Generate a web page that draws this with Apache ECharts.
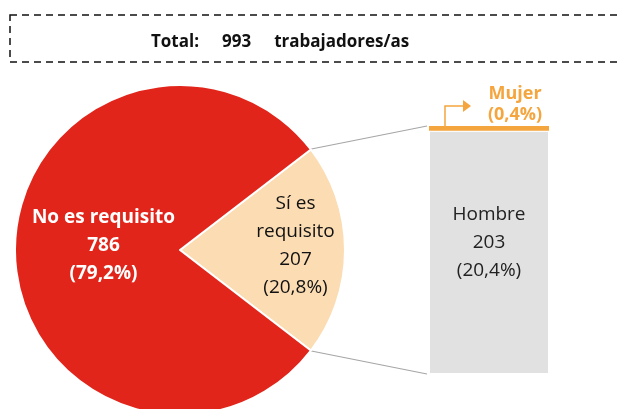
<!DOCTYPE html>
<html>
<head>
<meta charset="utf-8">
<script src="https://cdn.jsdelivr.net/npm/echarts@6/dist/echarts.min.js"></script>
<style>
  html, body { margin: 0; padding: 0; background: #fff; }
  #chart { width: 617px; height: 409px; }
</style>
</head>
<body>
<div id="chart"></div>
<script>
// datos
const pieNames = ['Sí es\nrequisito', 'No es requisito'];
const pieValues = [207, 786];
const piePct = ['20,8%', '79,2%'];
const barNames = ['Hombre', 'Mujer'];
const barValues = [203, 4];
const barPct = ['20,4%', '0,4%'];
const total = 993;

const FONT = 'Open Sans';
const RED = '#e1251b';
const PEACH = '#fbdcb3';
const GREY = '#e1e1e1';
const ORANGE = '#f5a53e';

const cx = 180, cy = 250, R = 165;
const barLeft = 429, barW = 120, barTop = 126, barH = 248;

const chart = echarts.init(document.getElementById('chart'));

// angulo medio del sector "Sí es"
const half = pieValues[0] / (pieValues[0] + pieValues[1]) * 180;
const rad = half * Math.PI / 180;
const p1 = [cx + R * Math.cos(rad), cy - R * Math.sin(rad)];
const p2 = [cx + R * Math.cos(rad), cy + R * Math.sin(rad)];

const option = {
  animation: false,
  textStyle: { fontFamily: FONT },
  title: {
    text: '{a|Total:}{g|}{a|' + total + '}{g|}{a|trabajadores/as}',
    left: 146,
    top: 28,
    textStyle: {
      rich: {
        a: { fontFamily: FONT, fontWeight: 'bold', fontSize: 17, color: '#111' },
        g: { width: 23 }
      }
    }
  },
  grid: { left: barLeft, top: barTop, width: barW, height: barH },
  xAxis: { type: 'category', data: ['x'], show: false },
  yAxis: { type: 'value', min: 0, max: pieValues[0], show: false },
  series: [
    {
      type: 'pie',
      center: [cx, cy],
      radius: R,
      startAngle: half,
      clockwise: true,
      silent: true,
      itemStyle: { borderColor: '#fff', borderWidth: 2 },
      label: {
        position: 'inside',
        fontSize: 19,
        lineHeight: 28,
        fontFamily: FONT
      },
      labelLine: { show: false },
      labelLayout: function (p) {
        return p.dataIndex === 0 ? { dx: 30, dy: -4 } : { dx: 9, dy: -4 };
      },
      data: pieValues.map((v, i) => ({
        name: pieNames[i],
        value: v,
        itemStyle: { color: i === 0 ? PEACH : RED },
        label: {
          formatter: pieNames[i] + '\n' + v + '\n(' + piePct[i] + ')',
          color: i === 0 ? '#111' : '#fff',
          fontWeight: i === 0 ? 'normal' : 'bold'
        }
      }))
    },
    {
      type: 'bar',
      stack: 's',
      barWidth: '100%',
      silent: true,
      itemStyle: { color: GREY, borderColor: '#fff', borderWidth: 1 },
      label: {
        show: true,
        position: 'inside',
        offset: [0, -10],
        fontSize: 19,
        lineHeight: 28,
        color: '#222',
        fontFamily: FONT,
        formatter: barNames[0] + '\n' + barValues[0] + '\n(' + barPct[0] + ')'
      },
      data: [barValues[0]]
    },
    {
      type: 'bar',
      stack: 's',
      barWidth: '100%',
      silent: true,
      itemStyle: { color: ORANGE },
      label: {
        show: true,
        position: 'top',
        distance: 1,
        offset: [26, 0],
        fontSize: 18,
        lineHeight: 21,
        fontWeight: 'bold',
        color: ORANGE,
        fontFamily: FONT,
        formatter: barNames[1] + '\n(' + barPct[1] + ')'
      },
      data: [barValues[1]]
    }
  ],
  graphic: [
    {
      type: 'rect',
      shape: { x: 10, y: 15, width: 640, height: 47 },
      style: { fill: 'none', stroke: '#111', lineWidth: 1.5, lineDash: [7, 5] }
    },
    {
      type: 'line',
      shape: { x1: p1[0] - 2, y1: p1[1], x2: barLeft - 2, y2: barTop },
      style: { stroke: '#a6a6a6', lineWidth: 1.2 }
    },
    {
      type: 'line',
      shape: { x1: p2[0] - 2, y1: p2[1], x2: barLeft - 2, y2: barTop + barH },
      style: { stroke: '#a6a6a6', lineWidth: 1.2 }
    },
    {
      type: 'polyline',
      shape: { points: [[445, barTop], [445, 106], [464, 106]] },
      style: { stroke: ORANGE, lineWidth: 1.5, fill: 'none' }
    },
    {
      type: 'polygon',
      shape: { points: [[463, 100], [471, 106], [463, 112]] },
      style: { fill: ORANGE }
    }
  ]
};

chart.setOption(option);
</script>
</body>
</html>
